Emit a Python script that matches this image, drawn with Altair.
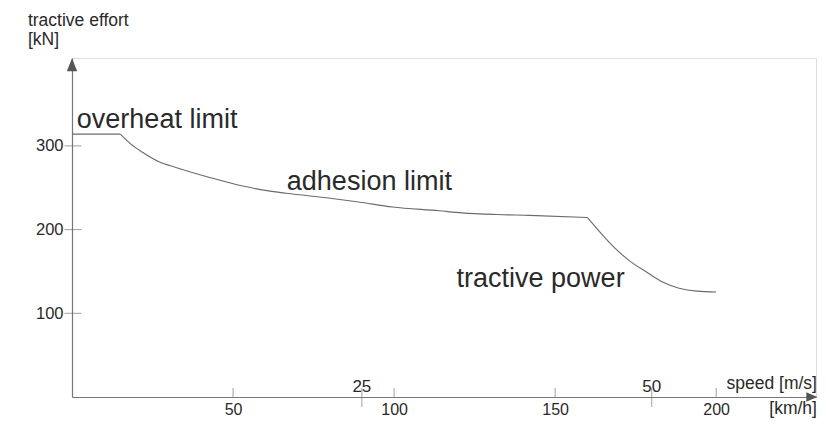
import altair as alt
import pandas as pd

# ---- data ----
speed_kmh = [0, 15, 18, 22, 27, 32.5, 43, 53, 61.5, 68.5, 79, 89, 99.5, 114, 121, 132, 142, 160,
             168, 173, 178.5, 183.5, 188.5, 194, 200]
effort_kn = [314, 314, 303, 292, 281, 274, 262, 252, 246, 242.5, 238, 233, 227, 222.5, 220, 218, 217, 214.5,
             180, 163, 149, 137, 130, 126.5, 125.5]
# indices where the curve has a sharp corner (overheat -> adhesion -> power)
corners = [1, 17]

y_ticks = [100, 200, 300]
kmh_ticks = [50, 100, 150, 200]
ms_ticks = [25, 50]

ann_text = ["overheat limit", "adhesion limit", "tractive power"]
ann_x = [1.5, 66.7, 119.4]
ann_y = [321.4, 247.3, 131.4]

FONT = "Liberation Sans"
TXT = "#2a2a2a"
LINE = "#6a6a6a"
AX = "#777777"

XD = [0, 231]
YD = [0, 405]

# split the curve into segments at the corners (shared end points)
bounds = [0] + corners + [len(speed_kmh) - 1]
rows = []
for s in range(len(bounds) - 1):
    for i in range(bounds[s], bounds[s + 1] + 1):
        rows.append({"speed": speed_kmh[i], "effort": effort_kn[i], "seg": s, "order": i})
curve = pd.DataFrame(rows)

ytk = pd.DataFrame({"v": y_ticks, "x0": [0] * len(y_ticks)})
xtk = pd.DataFrame({"v": kmh_ticks, "y0": [0] * len(kmh_ticks)})
mst = pd.DataFrame({"ms": ms_ticks, "y0": [0] * len(ms_ticks)})
ann = pd.DataFrame({"t": ann_text, "x": ann_x, "y": ann_y})
ytitle = pd.DataFrame({"t": ["tractive effort", "[kN]"], "x": [-13.7, -13.7], "y": [443.2, 420.5]})
xtitle = pd.DataFrame({"t": ["speed [m/s]", "[km/h]"], "x": [231.3, 231.3], "y": [9.6, -20.3]})
arrow_up = pd.DataFrame({"x": [0], "y": [396.9]})
arrow_right = pd.DataFrame({"x": [229.7], "y": [0]})

xs = alt.Scale(domain=XD, nice=False, zero=False, padding=0)
ys = alt.Scale(domain=YD, nice=False, zero=False, padding=0)

line = alt.Chart(curve).mark_line(color=LINE, strokeWidth=1.1, clip=False, interpolate="monotone").encode(
    x=alt.X("speed:Q", scale=xs, axis=alt.Axis(
        values=kmh_ticks, title=None, grid=False, ticks=False, tickSize=0,
        labelPadding=4, labelFontSize=16, labelFont=FONT, labelColor=TXT,
        domainColor=AX, domainWidth=1.2, labelBaseline="top")),
    y=alt.Y("effort:Q", scale=ys, axis=alt.Axis(
        values=y_ticks, title=None, grid=False, ticks=False, tickSize=0,
        labelPadding=9, labelFontSize=16.5, labelFont=FONT, labelColor=TXT,
        domainColor=AX, domainWidth=1.2)),
    detail="seg:N",
    order="order:Q",
)

yt = alt.Chart(ytk).mark_tick(orient="horizontal", size=17, thickness=1, color=AX, xOffset=1).encode(
    x=alt.X("x0:Q", scale=xs), y=alt.Y("v:Q", scale=ys))

xt = alt.Chart(xtk).mark_tick(orient="vertical", size=9, thickness=1, color=AX, yOffset=-4.5).encode(
    x=alt.X("v:Q", scale=xs), y=alt.Y("y0:Q", scale=ys))

mt = alt.Chart(mst).transform_calculate(kmh="datum.ms * 3.6").mark_tick(
    orient="vertical", size=19, thickness=1, color=AX, yOffset=0.5).encode(
    x=alt.X("kmh:Q", scale=xs), y=alt.Y("y0:Q", scale=ys))

ml = alt.Chart(mst).transform_calculate(kmh="datum.ms * 3.6").mark_text(
    font=FONT, fontSize=17, color=TXT, baseline="alphabetic", align="center", dy=-5).encode(
    x=alt.X("kmh:Q", scale=xs), y=alt.Y("y0:Q", scale=ys), text="ms:N")

at = alt.Chart(ann).mark_text(font=FONT, fontSize=27, color=TXT, align="left", baseline="alphabetic").encode(
    x=alt.X("x:Q", scale=xs), y=alt.Y("y:Q", scale=ys), text="t:N")

ytl = alt.Chart(ytitle).mark_text(font=FONT, fontSize=17.5, color=TXT, align="left", baseline="alphabetic").encode(
    x=alt.X("x:Q", scale=xs), y=alt.Y("y:Q", scale=ys), text="t:N")

xtl = alt.Chart(xtitle).mark_text(font=FONT, fontSize=17.5, color=TXT, align="right", baseline="alphabetic").encode(
    x=alt.X("x:Q", scale=xs), y=alt.Y("y:Q", scale=ys), text="t:N")

au = alt.Chart(arrow_up).mark_point(shape="M0,-1L0.8,1L-0.8,1Z", size=169, filled=True, color="#555555", opacity=1).encode(
    x=alt.X("x:Q", scale=xs), y=alt.Y("y:Q", scale=ys))

ar = alt.Chart(arrow_right).mark_point(shape="M1,0L-1,0.85L-1,-0.85Z", size=121, filled=True, color="#555555", opacity=1).encode(
    x=alt.X("x:Q", scale=xs), y=alt.Y("y:Q", scale=ys))

chart = alt.layer(line, yt, xt, mt, ml, at, ytl, xtl, au, ar).properties(
    width=744, height=339,
    padding={"left": 64, "top": 50, "right": 2, "bottom": 21},
    autosize=alt.AutoSizeParams(type="none"),
).configure_view(stroke=None).configure(background="white")

chart.save("out.html", embed_options={"renderer": "svg", "actions": False})
